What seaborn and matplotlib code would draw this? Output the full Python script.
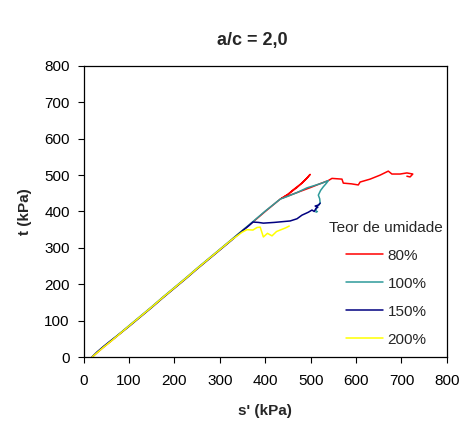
import matplotlib
matplotlib.use("Agg")
import matplotlib.pyplot as plt
import seaborn as sns
import pandas as pd

# ---- data ----
s_80 = [19, 30, 45, 60, 80, 100, 125, 150, 175, 200, 225, 250, 275, 300, 325, 345, 370, 400, 433,
        450, 461, 481, 492, 499, 490, 470, 450, 436, 470, 500, 520, 539, 547, 569, 572, 590, 605,
        609, 631, 653, 671, 679, 697, 712, 725, 719, 712]
t_80 = [0, 12, 28, 43, 64, 85, 111, 137, 164, 190, 216, 243, 269, 295, 321, 342, 368, 400, 434,
        447, 459, 478, 492, 502, 489, 466, 447, 436, 452, 466, 476, 485, 491, 489, 478, 476, 473,
        481, 489, 500, 511, 503, 503, 506, 503, 495, 497]

s_100 = [19, 30, 45, 60, 80, 100, 125, 150, 175, 200, 225, 250, 275, 300, 325, 345, 370, 400, 433,
         450, 470, 492, 510, 525, 539, 535, 528, 522, 517, 520, 521, 515, 512, 512, 515]
t_100 = [0, 13, 29, 44, 65, 86, 112, 138, 165, 191, 217, 244, 270, 296, 322, 343, 369, 401, 434,
         442, 452, 465, 472, 478, 485, 478, 468, 458, 445, 435, 423, 415, 405, 398, 400]

s_150 = [19, 30, 45, 60, 80, 100, 125, 150, 175, 200, 225, 250, 275, 300, 325, 352, 365, 373,
         385, 396, 420, 455, 470, 481, 495, 503, 508, 512, 516, 510, 518, 521]
t_150 = [0, 14, 30, 45, 64, 84, 110, 136, 163, 189, 215, 242, 268, 294, 320, 349, 362, 371,
         370, 368, 370, 374, 380, 390, 398, 404, 400, 409, 412, 415, 418, 423]

s_200 = [19, 30, 45, 60, 80, 100, 125, 150, 175, 200, 225, 250, 275, 300, 325, 349, 360, 373,
         382, 389, 396, 405, 415, 425, 435, 445, 453]
t_200 = [0, 12, 28, 43, 64, 85, 111, 137, 164, 190, 216, 243, 269, 295, 321, 343, 350, 349,
         356, 357, 330, 340, 333, 345, 350, 355, 360]

labels = ["80%", "100%", "150%", "200%"]
colors = ["#FF0000", "#2E9A9A", "#000080", "#FFFF00"]

frames = []
for lab, s, t in zip(labels, [s_80, s_100, s_150, s_200], [t_80, t_100, t_150, t_200]):
    frames.append(pd.DataFrame({"s": s, "t": t, "Teor": lab}))
df = pd.concat(frames, ignore_index=True)

sns.set_theme(style="white")
plt.rcParams["font.family"] = ["Liberation Sans", "DejaVu Sans"]

fig = plt.figure(figsize=(4.65, 4.23), dpi=100)
ax = fig.add_axes([0.1796, 0.156, 0.7814, 0.688])

sns.lineplot(data=df, x="s", y="t", hue="Teor", hue_order=labels, palette=colors,
             sort=False, estimator=None, units="Teor", linewidth=1.1, ax=ax)

ax.set_xlim(0, 800)
ax.set_ylim(0, 800)
ax.set_xticks(range(0, 801, 100))
ax.set_yticks(range(0, 801, 100))
ax.tick_params(axis="both", which="major", direction="out", length=4, width=0.8,
               labelsize=11, colors="black", bottom=True, left=True)
ax.tick_params(axis="x", pad=8)
ax.tick_params(axis="y", pad=6)
for sp in ax.spines.values():
    sp.set_visible(True)
    sp.set_color("black")
    sp.set_linewidth(0.9)

ax.set_xlabel("s' (kPa)", fontsize=11, fontweight="bold", labelpad=12)
ax.set_ylabel("t (kPa)", fontsize=11, fontweight="bold", labelpad=9)
fig.text(252 / 465, 1 - 40 / 423, "a/c = 2,0", ha="center", va="center",
         fontsize=13, fontweight="bold")

leg = ax.legend(title="Teor de umidade", frameon=False, loc="upper left",
                bbox_to_anchor=(0.66, 0.49), fontsize=11, title_fontsize=11,
                handlelength=2.4, handletextpad=0.3, labelspacing=0.92,
                borderaxespad=0)
leg._legend_box.align = "center"

fig.savefig("out.png", dpi=100)
